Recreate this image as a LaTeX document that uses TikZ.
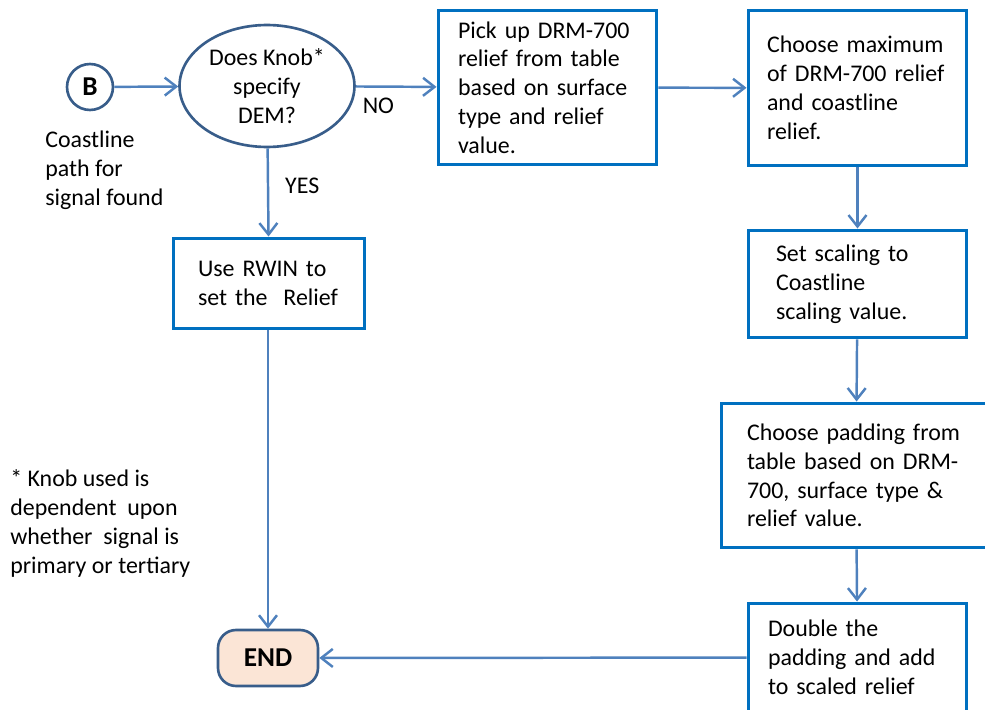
\documentclass[tikz,border=0pt]{standalone}
\usepackage{fontspec}
\setmainfont{Carlito}
\usetikzlibrary{shapes,arrows.meta,positioning}
\definecolor{boxblue}{HTML}{0070C0}
\definecolor{linkblue}{HTML}{4F81BD}
\definecolor{darkrim}{HTML}{385D8A}
\definecolor{peach}{HTML}{FBE5D6}
\tikzset{
	txt/.style={font=\fontsize{13.6}{16.4}\selectfont, inner sep=0pt},
	procbox/.style={txt,rectangle,draw=boxblue,line width=1.7pt,fill=white,align=left},
	decision/.style={txt,ellipse,draw=darkrim,line width=1.5pt,fill=white,align=center,minimum width=3.5cm,minimum height=2.44cm},
	startcirc/.style={txt,circle,draw=darkrim,line width=1.5pt,fill=white,minimum size=0.92cm,font=\fontsize{15.5}{18}\selectfont\bfseries},
	endbox/.style={txt,rectangle,rounded corners=0.36cm,draw=darkrim,line width=1.5pt,fill=peach,minimum width=2cm,minimum height=1.12cm,font=\fontsize{15.5}{18}\selectfont\bfseries},
	note/.style={txt,align=left},
	diredge/.style={->,>={Straight Barb[length=2.3mm,width=3.6mm]},color=linkblue,line width=1.4pt}
}
\begin{document}
\begin{tikzpicture}[x=0.02cm,y=-0.02cm]
	\useasboundingbox (0,0) rectangle (985,710);
	\clip (0,0) rectangle (985,710);
	
	\node [startcirc] (b) at (90, 87) {B};
	\node [note,anchor=west] (bnote) at (45, 170) {Coastline\\path for\\signal found};
	\node [decision] (knob) at (267, 86) {Does Knob*\\specify\\DEM?};
	\node [procbox,minimum width=4.38cm,minimum height=3.1cm,text width=3.58cm] (pickup) at (547.5, 87.5) {Pick up DRM-700\\relief from table\\based on surface\\type and relief\\value.};
	\node [procbox,minimum width=4.38cm,minimum height=3.12cm,text width=3.62cm] (choosemax) at (857.5, 88) {Choose maximum\\of DRM-700 relief\\and coastline\\relief.};
	\node [procbox,minimum width=4.38cm,minimum height=2.16cm,text width=3.26cm] (scaling) at (857.5, 284) {Set scaling to\\Coastline\\scaling value.};
	\node [procbox,minimum width=5.4cm,minimum height=2.9cm,text width=4.36cm] (padding) at (856, 475.5) {Choose padding from\\table based on DRM-\\700, surface type \&\\relief value.};
	\node [procbox,minimum width=4.38cm,minimum height=2.18cm,text width=3.58cm] (double) at (857.5, 657.5) {Double the\\padding and add\\to scaled relief};
	\node [procbox,minimum width=3.84cm,minimum height=1.82cm,text width=2.84cm] (rwin) at (269, 283.5) {Use RWIN to\\set the\ \ Relief};
	\node [endbox] (end) at (268, 658) {END};
	\node [note,anchor=west] (knobnote) at (10, 523.5) {* Knob used is\\dependent\ \ upon\\whether\ \ signal is\\primary or tertiary};
	
	\draw [diredge] (b) -- (knob);
	\draw [diredge] (knob) -- node[txt, pos=0.28, below, yshift=-2mm, text=black] {NO} (pickup);
	\draw [diredge] (knob) -- node[txt, pos=0.43, right, xshift=3.2mm, text=black] {YES} (rwin);
	\draw [diredge] (pickup) -- (choosemax);
	\draw [diredge] (choosemax) -- (scaling);
	\draw [diredge] (scaling) -- (padding);
	\draw [diredge] (padding) -- (double);
	\draw [diredge] (double) -- (end);
	\draw [diredge] (rwin.south -| end) -- (end);
	
\end{tikzpicture}
\end{document}
